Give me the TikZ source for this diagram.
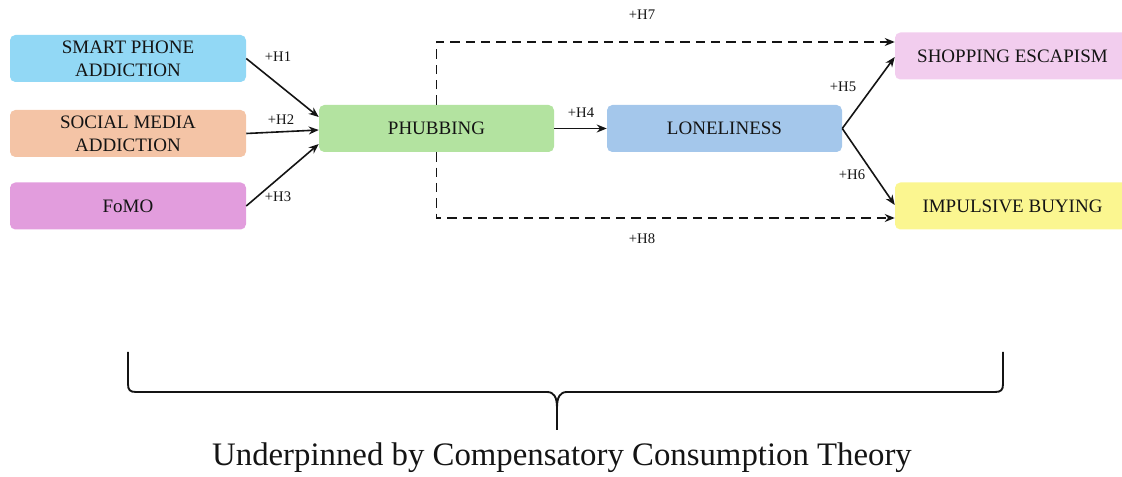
\documentclass[tikz,border=0pt]{standalone}
\usepackage{fontspec}
\setmainfont{Liberation Serif}
\usetikzlibrary{arrows.meta,calc}
\definecolor{spac}{HTML}{92D8F5}
\definecolor{smac}{HTML}{F4C4A6}
\definecolor{fomoc}{HTML}{E29DDD}
\definecolor{phubc}{HTML}{B3E3A0}
\definecolor{lonec}{HTML}{A4C7EB}
\definecolor{shopc}{HTML}{F2CDEE}
\definecolor{impc}{HTML}{FBF690}
\definecolor{txt}{HTML}{141414}
\begin{document}
\begin{tikzpicture}[x=0.75pt,y=-0.75pt,
  box/.style={rounded corners=4pt, minimum width=176.25pt, minimum height=35.25pt,
    align=center, inner sep=0pt, text=txt,
    font=\fontsize{14.25}{17.25}\selectfont},
  lab/.style={inner sep=0pt, text=txt, font=\fontsize{11}{12}\selectfont},
  arr/.style={-{Stealth[length=7.5pt,width=6pt]}, line width=1.2pt, draw=black!92},
  dasharr/.style={arr, dash pattern=on 7pt off 4.5pt}
]
\clip (0,0) rectangle (1122,477);
\useasboundingbox (0,0) rectangle (1122,477);

\node[box, fill=spac, minimum width=177pt] (spa) at (128,58.5) {SMART PHONE\\ADDICTION};
\node[box, fill=smac, minimum width=177pt] (sma) at (128,133.5) {SOCIAL MEDIA\\ADDICTION};
\node[box, fill=fomoc, minimum width=177pt] (fomo) at (128,206) {FoMO};
\node[box, fill=phubc] (phub) at (436.5,128.5) {PHUBBING};
\node[box, fill=lonec] (lone) at (724.5,128.5) {LONELINESS};
\node[box, fill=shopc] (shop) at (1012.5,56) {SHOPPING ESCAPISM};
\node[box, fill=impc] (imp) at (1012.5,206) {IMPULSIVE BUYING};

\draw[arr] (spa.east) -- ($(phub.west)+(0,-11.5)$);
\draw[arr] (sma.east) -- ($(phub.west)+(0,1.5)$);
\draw[arr] (fomo.east) -- ($(phub.west)+(0,15.5)$);
\draw[arr] (phub.east) -- (lone.west);
\draw[arr] (lone.east) -- ($(shop.west)+(0,1)$);
\draw[arr] (lone.east) -- ($(imp.west)+(0,-1)$);
\draw[dasharr] (phub.north) |- ($(shop.west)+(0,-14)$);
\draw[dasharr] (phub.south) |- ($(imp.west)+(0,12)$);

\node[lab] (h1) at (278,57) {+H1};
\node[lab] (h2) at (281,120) {+H2};
\node[lab] (h3) at (278,197) {+H3};
\node[lab] (h4) at (581,113) {+H4};
\node[lab] (h5) at (843,87) {+H5};
\node[lab] (h6) at (852,175) {+H6};
\node[lab] (h7) at (642,15) {+H7};
\node[lab] (h8) at (642,239) {+H8};

\coordinate (bl) at (128,352);
\coordinate (br) at (1003,352);
\coordinate (bt) at (557,430);
\draw[line width=1.4pt, draw=black!92]
  (bl) -- (128,384) .. controls (128,390) and (130,392) .. (136,392)
  -- (547,392) .. controls (554,392) and (557,397) .. (557,408) -- (bt);
\draw[line width=1.4pt, draw=black!92]
  (br) -- (1003,384) .. controls (1003,390) and (1001,392) .. (995,392)
  -- (567,392) .. controls (560,392) and (557,397) .. (557,408);

\node[inner sep=0pt, text=txt, font=\fontsize{24.6}{28}\selectfont] (theory) at (562,458) {Underpinned by Compensatory Consumption Theory};
\end{tikzpicture}
\end{document}
